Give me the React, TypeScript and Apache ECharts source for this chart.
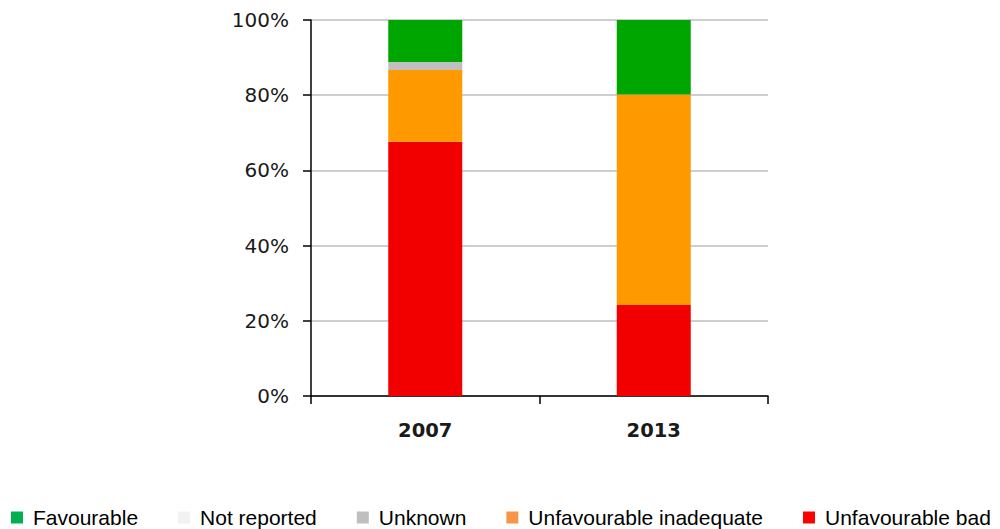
import React, { useEffect, useRef } from "react";
import * as echarts from "echarts";

const categories = ["2007", "2013"];
const favourable = [11.2, 19.8];
const notReported = [0, 0];
const unknown = [2.1, 0];
const unfavInadequate = [19.1, 56.0];
const unfavBad = [67.6, 24.2];
const yTicks = [0, 20, 40, 60, 80, 100];

export default function App() {
  const ref = useRef<HTMLDivElement>(null);
  useEffect(() => {
    document.body.style.margin = "0";
    const chart = echarts.init(ref.current!, null, { renderer: "svg" });
    const mk = (name: string, data: number[], color: string) => ({
      name,
      type: "bar",
      stack: "total",
      data,
      barWidth: 74,
      itemStyle: { color },
    });
    chart.setOption({
      animation: false,
      backgroundColor: "#ffffff",
      grid: { left: 311, right: 232, top: 20, bottom: 133 },
      legend: {
        left: 11,
        top: 507,
        width: 1000,
        padding: 0,
        itemGap: 40,
        itemWidth: 12,
        itemHeight: 12,
        icon: "rect",
        textStyle: {
          fontFamily: "Liberation Sans, Arial, sans-serif",
          fontSize: 21,
          color: "#000000",
          padding: [0, 0, 0, 5],
        },
        data: [
          { name: "Favourable", itemStyle: { color: "#00B050" } },
          { name: "Not reported", itemStyle: { color: "#F2F2F2" } },
          { name: "Unknown", itemStyle: { color: "#BFBFBF" } },
          { name: "Unfavourable inadequate", itemStyle: { color: "#F79646" } },
          { name: "Unfavourable bad", itemStyle: { color: "#FF0000" } },
        ],
      },
      xAxis: {
        type: "category",
        data: categories,
        axisLine: { lineStyle: { color: "#000000", width: 1.5 } },
        axisTick: { show: true, length: 8, lineStyle: { color: "#000000", width: 1.5 } },
        axisLabel: {
          margin: 24,
          fontFamily: "DejaVu Sans, Verdana, sans-serif",
          fontWeight: "bold",
          fontSize: 19.5,
          color: "#1a1a1a",
        },
      },
      yAxis: {
        type: "value",
        min: yTicks[0],
        max: yTicks[yTicks.length - 1],
        interval: 20,
        axisLine: { show: true, lineStyle: { color: "#000000", width: 1.5 } },
        axisTick: { show: true, length: 8, lineStyle: { color: "#000000", width: 1.5 } },
        splitLine: { lineStyle: { color: "#BEBEBE", width: 1.5 } },
        axisLabel: {
          formatter: "{value}%",
          margin: 22,
          fontFamily: "DejaVu Sans, Verdana, sans-serif",
          fontSize: 20,
          color: "#1a1a1a",
        },
      },
      series: [
        mk("Unfavourable bad", unfavBad, "#F20000"),
        mk("Unfavourable inadequate", unfavInadequate, "#FF9900"),
        mk("Unknown", unknown, "#C0C0C0"),
        mk("Not reported", notReported, "#F2F2F2"),
        mk("Favourable", favourable, "#00A600"),
      ],
    });
    return () => chart.dispose();
  }, []);
  return (
    <div
      ref={ref}
      style={{ position: "absolute", left: 0, top: 0, width: 1000, height: 529 }}
    />
  );
}
